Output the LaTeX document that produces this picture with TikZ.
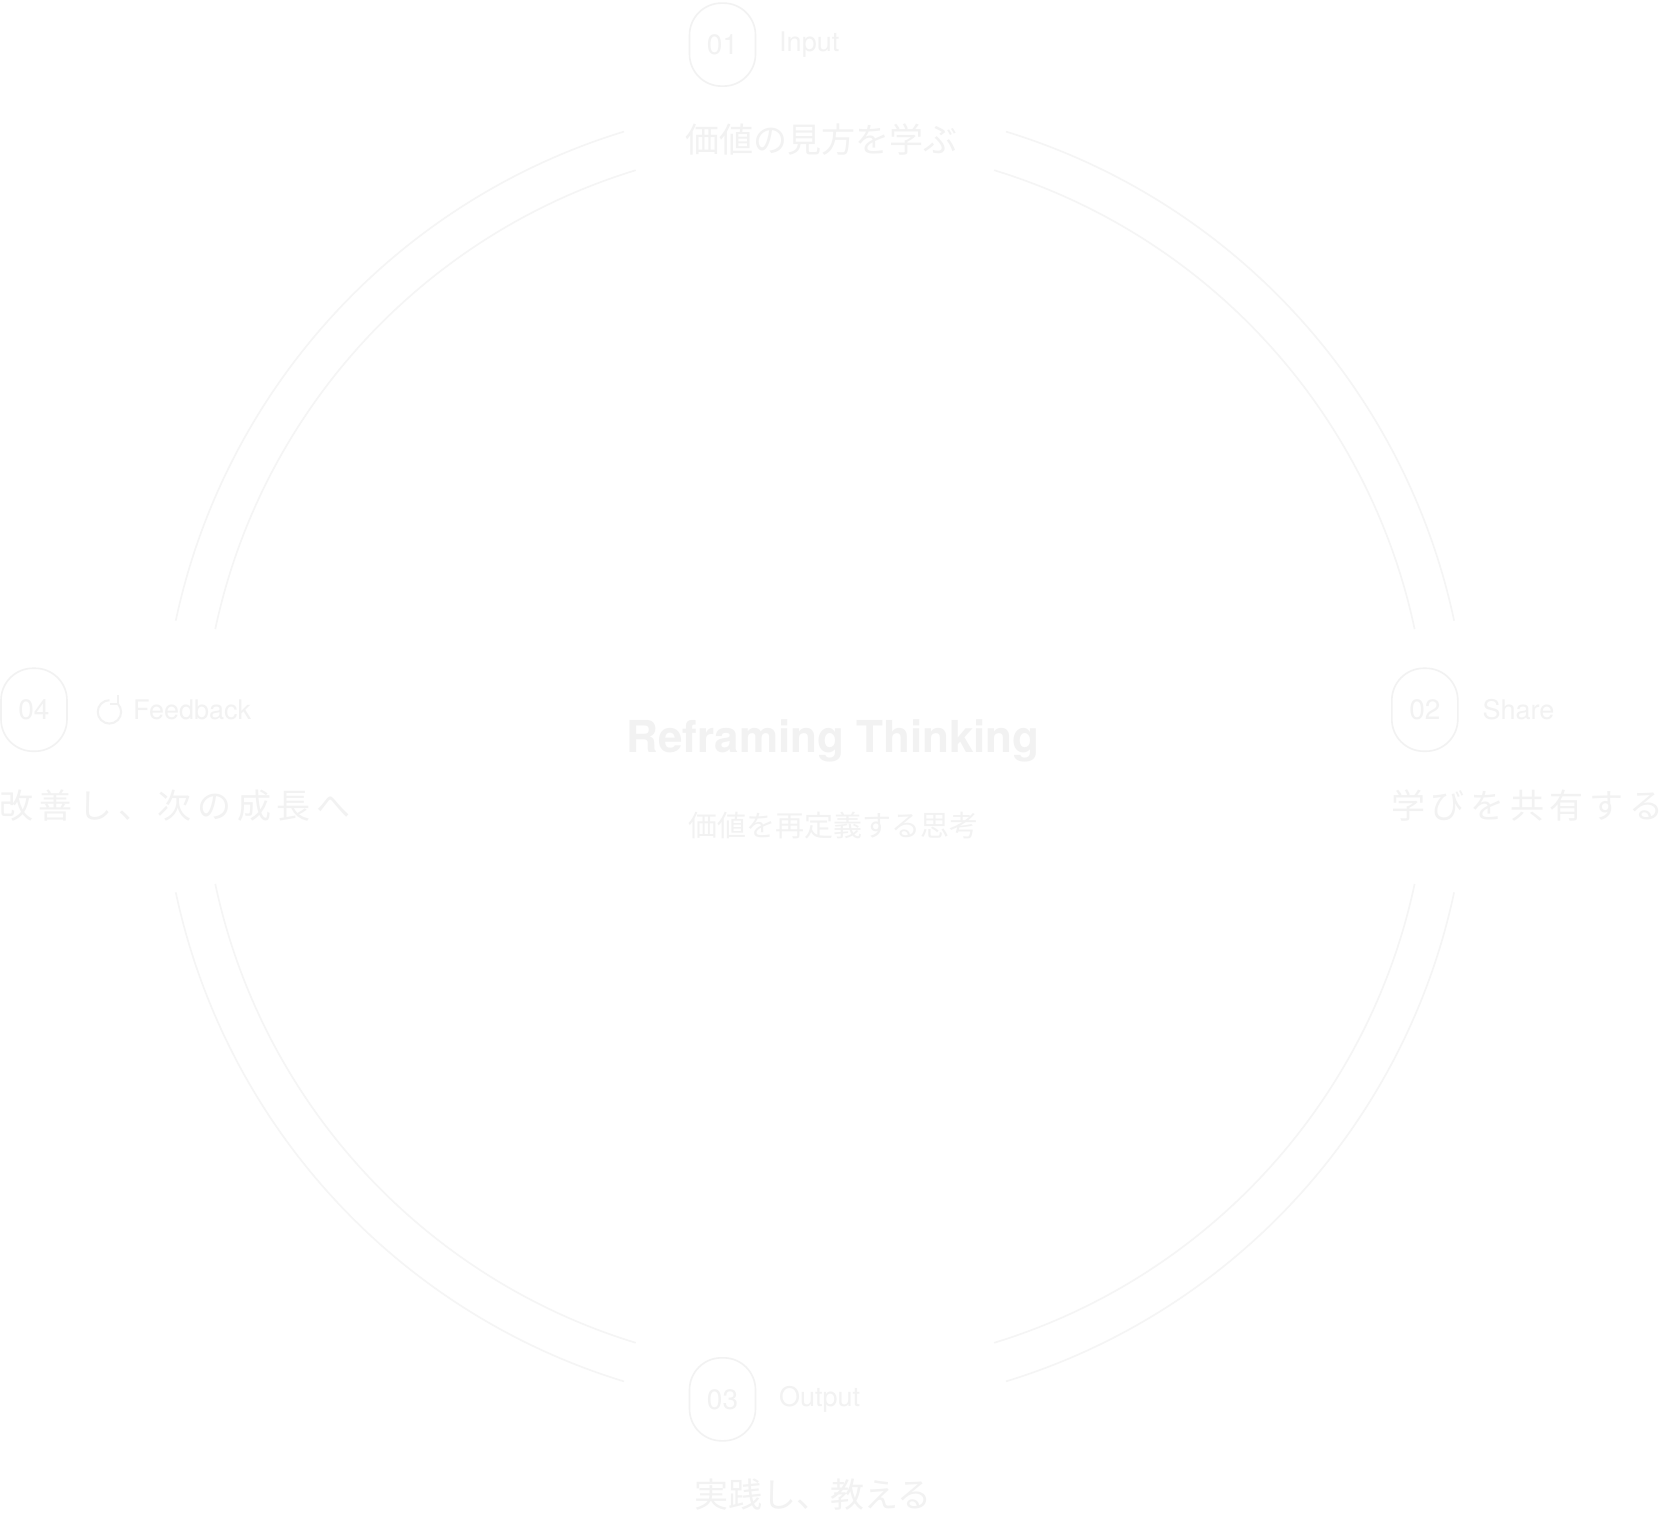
\documentclass[tikz,border=0pt]{standalone}
\usepackage{fontspec}
\usetikzlibrary{calc}
\setmainfont{Noto Sans CJK JP}
\newfontfamily\lat{TeX Gyre Heros}
\begin{document}
\begin{tikzpicture}[x=1.0625pt,y=-1.0625pt,
  ring/.style={draw=black!4,line width=1.6pt},
  pill/.style={draw=black!5,line width=1.6pt,rounded corners=32pt,minimum width=66pt,minimum height=83pt,text=black!5,font=\lat\fontsize{28}{28}\selectfont},
  tag/.style={text=black!5,anchor=west,font=\lat\fontsize{27}{27}\selectfont},
  jp/.style={text=black!5,font=\fontsize{34}{34}\selectfont}]
\fill[white] (0,0) rectangle (1568,1436);
\useasboundingbox (0,0) rectangle (1568,1436);
\coordinate (c) at (767,712);
\foreach \a/\b in {12/73,107/168,192/253,287/348}{
  \draw[ring] ($(c)+(\a:615)$) arc[start angle=\a,end angle=\b,radius=615];
  \draw[ring] ($(c)+(\a:577)$) arc[start angle=\a,end angle=\b,radius=577];
}
\node[pill] (p1) at (680,42) {01};
\node[tag] (t1) at (730,42) {Input};
\node[jp] (j1) at (773,131) {価値の見方を学ぶ};
\node[pill] (p2) at (1341,668) {02};
\node[tag] (t2) at (1392,668) {Share};
\node[jp,anchor=west] (j2) at (1306,758) {学\,び\,を\,共\,有\,す\,る};
\node[pill] (p3) at (680,1317) {03};
\node[tag] (t3) at (730,1317) {Output};
\node[jp] (j3) at (765,1407) {実践し、教える};
\node[pill] (p4) at (32,668) {04};
\node[tag] (t4) at (122,668) {Feedback};
\draw[black!5,line width=2pt] ($(103,670)+(-45:11)$) arc[start angle=-45,end angle=270,radius=11];
\draw[black!5,line width=2pt] ($(103,670)+(-45:11)$) -- ++(0,-8) ($(103,670)+(-45:11)$) -- ++(-7,0);
\node[jp,anchor=west] (j4) at (-4,758) {改\,善\,し\,、\,次\,の\,成\,長\,へ};
\node[text=black!5,font=\lat\bfseries\fontsize{44}{44}\selectfont] (title) at (784,697) {Reframing Thinking};
\node[text=black!5,font=\fontsize{29}{29}\selectfont] (sub) at (784,777) {価値を再定義する思考};
\end{tikzpicture}
\end{document}
